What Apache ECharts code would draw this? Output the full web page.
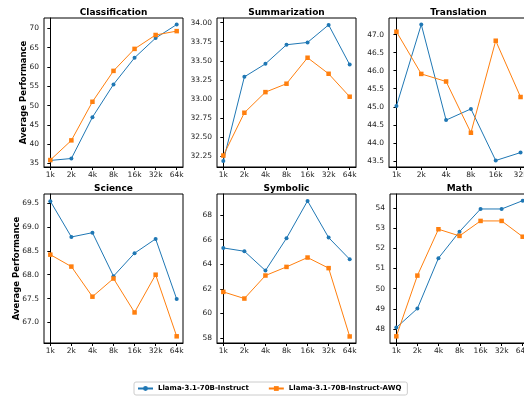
<!doctype html>
<html lang="en">
<head>
    <meta charset="UTF-8">
    <script src="https://cdn.jsdelivr.net/npm/echarts@6/dist/echarts.min.js"></script>
    <title>Average Performance by context length</title>
    <style>body{margin:0;background:#fff}</style>
</head>
<body>
<div id="main" style="width: 524px;height:396px;"></div>
<script>
    // context lengths on the x axis
    var cats = ['1k', '2k', '4k', '8k', '16k', '32k', '64k'];
    var seriesNames = ['Llama-3.1-70B-Instruct', 'Llama-3.1-70B-Instruct-AWQ'];

    var classBase = [35.8, 36.3, 47.0, 55.5, 62.4, 67.5, 71.0];
    var classAwq = [35.9, 41.0, 51.0, 59.0, 64.7, 68.3, 69.3];
    var classTicks = [35, 40, 45, 50, 55, 60, 65, 70];

    var sumBase = [32.19, 33.29, 33.46, 33.71, 33.74, 33.97, 33.45];
    var sumAwq = [32.26, 32.82, 33.09, 33.20, 33.54, 33.33, 33.03];
    var sumTicks = [32.25, 32.5, 32.75, 33.0, 33.25, 33.5, 33.75, 34.0];

    var transBase = [45.02, 47.28, 44.63, 44.94, 43.51, 43.73];
    var transAwq = [47.08, 45.91, 45.70, 44.28, 46.83, 45.27];
    var transTicks = [43.5, 44.0, 44.5, 45.0, 45.5, 46.0, 46.5, 47.0];

    var sciBase = [69.54, 68.79, 68.88, 67.97, 68.45, 68.75, 67.49];
    var sciAwq = [68.42, 68.17, 67.54, 67.92, 67.21, 68.0, 66.71];
    var sciTicks = [67.0, 67.5, 68.0, 68.5, 69.0, 69.5];

    var symBase = [65.32, 65.05, 63.48, 66.11, 69.14, 66.16, 64.4];
    var symAwq = [61.75, 61.21, 63.08, 63.78, 64.54, 63.68, 58.13];
    var symTicks = [58, 60, 62, 64, 66, 68];

    var mathBase = [48.08, 49.02, 51.51, 52.82, 53.94, 53.94, 54.35];
    var mathAwq = [47.65, 50.65, 52.94, 52.61, 53.35, 53.35, 52.57];
    var mathTicks = [48, 49, 50, 51, 52, 53, 54];

    var panels = [
        {title: 'Classification', base: classBase, awq: classAwq, ticks: classTicks, min: 34.1, max: 72.7, dec: 0, left: 44, top: 18, ylabel: true, nameGap: 16},
        {title: 'Summarization', base: sumBase, awq: sumAwq, ticks: sumTicks, min: 32.11, max: 34.06, dec: 2, left: 217, top: 18},
        {title: 'Translation', base: transBase, awq: transAwq, ticks: transTicks, min: 43.33, max: 47.46, dec: 1, left: 389, top: 18},
        {title: 'Science', base: sciBase, awq: sciAwq, ticks: sciTicks, min: 66.57, max: 69.69, dec: 1, left: 44, top: 194, ylabel: true, nameGap: 23},
        {title: 'Symbolic', base: symBase, awq: symAwq, ticks: symTicks, min: 57.6, max: 69.7, dec: 0, left: 217, top: 194},
        {title: 'Math', base: mathBase, awq: mathAwq, ticks: mathTicks, min: 47.32, max: 54.68, dec: 0, left: 390, top: 194}
    ];

    var W = 139, H = 149;
    var font = 'DejaVu Sans';
    var colors = ['#1f77b4', '#ff7f0e'];

    var grids = [], xAxes = [], yAxes = [], titles = [], series = [];
    panels.forEach(function (p, i) {
        var n = p.base.length;
        var idx = [];
        for (var k = 0; k < n; k++) idx.push(k);
        grids.push({
            left: p.left, top: p.top, width: W, height: H, outerBoundsMode: 'none', containLabel: false,
            show: true, borderColor: '#000', borderWidth: 1, backgroundColor: 'transparent'
        });
        titles.push({
            text: p.title, left: p.left + W / 2, top: p.top - 10, textAlign: 'center', padding: 0,
            textStyle: {fontFamily: font, fontSize: 9, fontWeight: 'bold', color: '#000'}
        });
        xAxes.push({
            type: 'value', gridIndex: i, min: -0.3, max: n - 1 + 0.3,
            axisLine: {show: true, lineStyle: {color: '#000', width: 1}},
            axisTick: {show: true, length: 3, customValues: idx, lineStyle: {color: '#000'}},
            axisLabel: {
                customValues: idx, margin: 4, fontFamily: font, fontSize: 7.5, color: '#222',
                formatter: function (v) { return cats[Math.round(v)]; }
            },
            splitLine: {show: false}
        });
        yAxes.push({
            type: 'value', gridIndex: i, min: p.min, max: p.max,
            name: p.ylabel ? 'Average Performance' : '', nameLocation: 'middle', nameGap: p.nameGap || 20,
            nameMoveOverlap: false,
            nameTextStyle: {fontFamily: font, fontSize: 8.5, fontWeight: 'bold', color: '#000'},
            axisLine: {show: true, lineStyle: {color: '#000', width: 1}},
            axisTick: {show: true, length: 3, customValues: p.ticks, lineStyle: {color: '#000'}},
            axisLabel: {
                customValues: p.ticks, margin: 5, fontFamily: font, fontSize: 7.5, color: '#222',
                formatter: function (v) { return v.toFixed(p.dec); }
            },
            splitLine: {show: false}
        });
        [p.base, p.awq].forEach(function (vals, s) {
            series.push({
                name: seriesNames[s], type: 'line', xAxisIndex: i, yAxisIndex: i,
                data: vals.map(function (v, k) { return [k, v]; }),
                symbol: s === 0 ? 'circle' : 'rect', symbolSize: s === 0 ? 4 : 4.5,
                itemStyle: {color: colors[s]},
                lineStyle: {color: colors[s], width: 1},
                animation: false
            });
        });
    });

    var myChart = echarts.init(document.getElementById('main'));
    myChart.setOption({
        animation: false,
        title: titles,
        grid: grids,
        xAxis: xAxes,
        yAxis: yAxes,
        legend: {
            data: seriesNames, left: 134, top: 382, itemWidth: 15, itemHeight: 6, itemGap: 19,
            padding: [3, 6, 3, 3], borderColor: '#ccc', borderWidth: 1, borderRadius: 2,
            textStyle: {fontFamily: font, fontSize: 7, fontWeight: 'bold', color: '#000'}
        },
        series: series
    });
</script>
</body>
</html>
